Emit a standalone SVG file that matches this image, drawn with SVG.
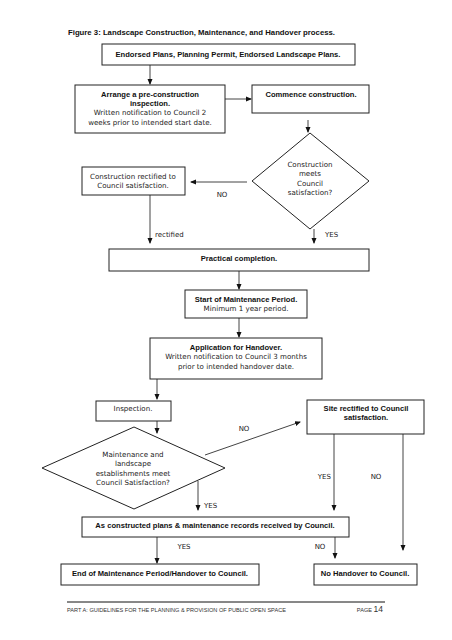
<svg xmlns="http://www.w3.org/2000/svg" width="452" height="640" viewBox="0 0 452 640">
<style>
.bg{fill:#fff}
.box{fill:#fff;stroke:#222;stroke-width:1}
.t{font-family:"DejaVu Sans",sans-serif;font-size:7.1px;fill:#222;text-anchor:middle}
.b{font-family:"Liberation Sans",Arial,sans-serif;font-size:7.6px;font-weight:bold;fill:#111;text-anchor:middle}
.l{font-family:"DejaVu Sans",sans-serif;font-size:7px;fill:#222}
.c{stroke:#444;stroke-width:1;fill:none;marker-end:url(#ah)}
</style>
<defs>
<marker id="ah" viewBox="0 0 6 6" refX="5" refY="3" markerWidth="6" markerHeight="6" markerUnits="userSpaceOnUse" orient="auto">
<path d="M0,0.5 L6,3 L0,5.5 Z" fill="#111"/>
</marker>
</defs>
<rect class="bg" x="0" y="0" width="452" height="640"/>
<text class="b" x="68" y="35" style="text-anchor:start;font-size:7.75px">Figure 3: Landscape Construction, Maintenance, and Handover process.</text>

<g id="connectors">
<line class="c" x1="150" y1="65" x2="150" y2="84"/>
<line class="c" x1="225" y1="99" x2="251" y2="99"/>
<line class="c" x1="308" y1="120" x2="308" y2="132"/>
<line class="c" x1="247" y1="182" x2="191" y2="182"/>
<line class="c" x1="150" y1="195" x2="150" y2="243"/>
<line class="c" x1="314" y1="229" x2="314" y2="243"/>
<line class="c" x1="239" y1="271" x2="239" y2="289"/>
<line class="c" x1="239" y1="318" x2="239" y2="337"/>
<line class="c" x1="157" y1="379" x2="157" y2="399"/>
<line class="c" x1="157" y1="421" x2="157" y2="433"/>
<line class="c" x1="205" y1="455" x2="300" y2="422"/>
<line class="c" x1="198" y1="481" x2="198" y2="510"/>
<line class="c" x1="334" y1="434" x2="334" y2="510"/>
<line class="c" x1="403" y1="434" x2="403" y2="550"/>
<line class="c" x1="157" y1="537" x2="157" y2="563"/>
<line class="c" x1="335" y1="537" x2="335" y2="558"/>
<text class="l" x="222" y="197" text-anchor="middle">NO</text>
<text class="l" x="155" y="237">rectified</text>
<text class="l" x="325" y="237">YES</text>
<text class="l" x="244" y="431" text-anchor="middle">NO</text>
<text class="l" x="204" y="508">YES</text>
<text class="l" x="331" y="478.5" text-anchor="end">YES</text>
<text class="l" x="376" y="478.5" text-anchor="middle">NO</text>
<text class="l" x="184" y="548.5" text-anchor="middle">YES</text>
<text class="l" x="320" y="548.5" text-anchor="middle">NO</text>
</g>

<g id="endorsed">
<rect class="box" x="102" y="44" width="253" height="21"/>
<text class="b" x="228" y="57">Endorsed Plans, Planning Permit, Endorsed Landscape Plans.</text>
</g>
<g id="arrange">
<rect class="box" x="75" y="85" width="150" height="48"/>
<text class="b" x="150" y="97">Arrange a pre-construction</text>
<text class="b" x="150" y="106">inspection.</text>
<text class="t" x="150" y="115">Written notification to Council 2</text>
<text class="t" x="150" y="125">weeks prior to intended start date.</text>
</g>
<g id="commence">
<rect class="box" x="252" y="85" width="117" height="28"/>
<text class="b" x="311" y="97">Commence construction.</text>
</g>
<g id="decision1">
<polygon class="box" points="310,133 369,181 310,229 252,181"/>
<text class="t" x="310" y="166.5">Construction</text>
<text class="t" x="310" y="175.5">meets</text>
<text class="t" x="310" y="185.5">Council</text>
<text class="t" x="310" y="194.5">satisfaction?</text>
</g>
<g id="rectified">
<rect class="box" x="82" y="167" width="103" height="28"/>
<text class="t" x="133" y="178.5">Construction rectified to</text>
<text class="t" x="133" y="187.5">Council satisfaction.</text>
</g>
<g id="practical">
<rect class="box" x="109" y="249" width="260" height="22"/>
<text class="b" x="239" y="261">Practical completion.</text>
</g>
<g id="maintenance">
<rect class="box" x="185" y="290" width="122" height="28"/>
<text class="b" x="246" y="301.5">Start of Maintenance Period.</text>
<text class="t" x="246" y="310.5">Minimum 1 year period.</text>
</g>
<g id="application">
<rect class="box" x="150" y="338" width="172" height="41"/>
<text class="b" x="236" y="349.5">Application for Handover.</text>
<text class="t" x="236" y="358.5">Written notification to Council 3 months</text>
<text class="t" x="236" y="368.5">prior to intended handover date.</text>
</g>
<g id="inspection">
<rect class="box" x="96" y="401" width="75" height="20"/>
<text class="t" x="133" y="410.5">Inspection.</text>
</g>
<g id="siterectified">
<rect class="box" x="307" y="400" width="117" height="34"/>
<text class="b" x="366" y="410.5">Site rectified to Council</text>
<text class="b" x="366" y="419.5">satisfaction.</text>
</g>
<g id="decision2">
<polygon class="box" points="134,427 225,468 134,509 42,468"/>
<text class="t" x="133" y="456.5">Maintenance and</text>
<text class="t" x="133" y="466">landscape</text>
<text class="t" x="133" y="475.5">establishments meet</text>
<text class="t" x="133" y="485">Council Satisfaction?</text>
</g>
<g id="asconstructed">
<rect class="box" x="82" y="517" width="267" height="20"/>
<text class="b" x="215" y="528">As constructed plans &amp; maintenance records received by Council.</text>
</g>
<g id="endperiod">
<rect class="box" x="61" y="564" width="198" height="21"/>
<text class="b" x="160" y="576">End of Maintenance Period/Handover to Council.</text>
</g>
<g id="nohandover">
<rect class="box" x="314" y="564" width="103" height="21"/>
<text class="b" x="365" y="576">No Handover to Council.</text>
</g>

<line x1="67" y1="602" x2="385" y2="602" stroke="#111" stroke-width="1"/>
<text x="67" y="612" font-family="'Liberation Sans',Arial,sans-serif" font-size="5.6" fill="#333">PART A: GUIDELINES FOR THE PLANNING &amp; PROVISION OF PUBLIC OPEN SPACE</text>
<text x="383" y="612" font-family="'Liberation Sans',Arial,sans-serif" fill="#333" text-anchor="end"><tspan font-size="5.6">PAGE </tspan><tspan font-size="8.5">14</tspan></text>
</svg>
